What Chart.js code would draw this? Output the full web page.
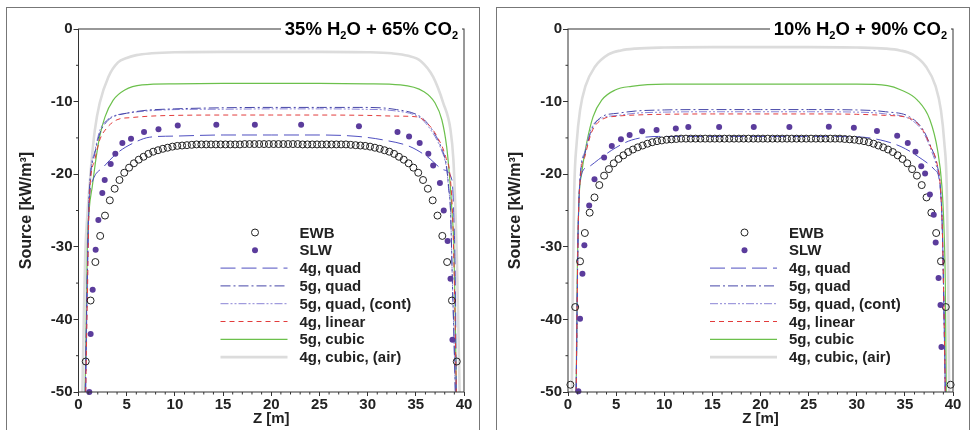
<!DOCTYPE html>
<html>
<head>
<meta charset="utf-8">
<script src="https://cdn.jsdelivr.net/npm/chart.js@4.4.1/dist/chart.umd.min.js"></script>
<style>
  body { margin: 0; background: #fff; width: 972px; height: 430px; overflow: hidden; position: relative; font-family: "Liberation Sans", Arial, sans-serif; }
  .panel { position: absolute; top: 7px; width: 474px; height: 440px; border: 1.5px solid #777; box-sizing: border-box; }
  .wrap { position: absolute; top: 0; width: 486px; height: 430px; }
  .title { position: absolute; top: 18px; font: bold 18.5px "Liberation Sans", Arial, sans-serif; line-height: 22px; background: #fff; padding: 0 4px; white-space: nowrap; }
  .title sub { font-size: 11px; line-height: 0; vertical-align: -4px; }
</style>
</head>
<body>
<div class="panel" style="left:6px"></div>
<div class="panel" style="left:496px"></div>
<div class="wrap" style="left:0"><canvas id="c1" width="486" height="430"></canvas></div>
<div class="wrap" style="left:486px"><canvas id="c2" width="486" height="430"></canvas></div>
<div class="title" style="right:510px">35% H<sub>2</sub>O + 65% CO<sub>2</sub></div>
<div class="title" style="right:21px">10% H<sub>2</sub>O + 90% CO<sub>2</sub></div>
<script>
// cell centres of the EWB reference solution [m]
const zGrid = [0.25,0.75,1.25,1.75,2.25,2.75,3.25,3.75,4.25,4.75,5.25,5.75,6.25,6.75,7.25,7.75,8.25,8.75,9.25,9.75,
  10.25,10.75,11.25,11.75,12.25,12.75,13.25,13.75,14.25,14.75,15.25,15.75,16.25,16.75,17.25,17.75,18.25,18.75,19.25,19.75,
  20.25,20.75,21.25,21.75,22.25,22.75,23.25,23.75,24.25,24.75,25.25,25.75,26.25,26.75,27.25,27.75,28.25,28.75,29.25,29.75,
  30.25,30.75,31.25,31.75,32.25,32.75,33.25,33.75,34.25,34.75,35.25,35.75,36.25,36.75,37.25,37.75,38.25,38.75,39.25,39.75];

const xTicks = [0, 5, 10, 15, 20, 25, 30, 35, 40];
const yTicks = [-50, -40, -30, -20, -10, 0];
const labels = ['EWB', 'SLW', '4g, quad', '5g, quad', '5g, quad, (cont)', '4g, linear', '5g, cubic', '4g, cubic, (air)'];

// ---- 35% H2O + 65% CO2 ----
const ewbA = [null,-45.8,-37.4,-32.1,-28.5,-25.7,-23.6,-22.0,-20.8,-19.8,
  -19.1,-18.5,-18.0,-17.6,-17.2,-16.9,-16.7,-16.5,-16.35,-16.2,
  -16.1,-16.05,-16.0,-15.95,-15.9,-15.9,-15.9,-15.9,-15.9,-15.9,
  -15.9,-15.9,-15.9,-15.9,-15.85,-15.85,-15.85,-15.85,-15.85,-15.85,
  -15.85,-15.85,-15.85,-15.85,-15.85,-15.85,-15.9,-15.9,-15.9,-15.9,
  -15.9,-15.9,-15.9,-15.9,-15.9,-15.9,-15.95,-16.0,-16.05,-16.1,
  -16.2,-16.35,-16.5,-16.7,-16.9,-17.2,-17.6,-18.0,-18.5,-19.1,
  -19.8,-20.8,-22.0,-23.6,-25.7,-28.5,-32.1,-37.4,-45.8,null];
const slwAx = [1.12,1.26,1.47,1.78,2.06,2.47,2.72,3.34,3.82,4.55,5.45,6.8,8.3,10.3,14.3,18.3,23.1,29.1,33.1,34.3,35.4,36.3,36.8,37.5,37.9,38.3,38.6,38.8];
const slwAy = [-50,-42,-35.9,-30.4,-26.3,-22.6,-20.8,-18.6,-17.2,-15.7,-15.1,-14.2,-13.8,-13.3,-13.2,-13.2,-13.2,-13.4,-14.2,-14.8,-15.7,-17.2,-18.8,-21.2,-25.0,-29.2,-34.4,-42.8];
const q4Ax = [0.75,0.85,0.95,1.1,1.5,2.6,4.0,5.7,7.4,10,15,20,25,29,31.7,34.4,36.2,37.9,38.75,38.95,39.1,39.2];
const q4Ay = [-50,-40,-32,-24,-20.8,-19.0,-17.1,-15.7,-14.9,-14.75,-14.6,-14.6,-14.6,-14.8,-15.3,-16.2,-17.6,-19.4,-20.8,-26,-35,-50];
const q5Ax = [0.7,0.8,0.9,1.05,1.2,1.7,2.2,2.9,3.6,5,7,10,15,20,25,29.2,33,35.5,36.5,37.6,38.2,38.4,38.6,38.8,38.95,39.1];
const q5Ay = [-50,-42,-35,-25,-20.8,-17.1,-14.4,-12.8,-12.1,-11.6,-11.2,-11.0,-10.85,-10.8,-10.8,-10.8,-11.1,-12.1,-13.5,-16.2,-19,-21.7,-25,-35,-42,-50];
const qcAy = [-50,-42,-35,-25,-20.5,-16.8,-14.0,-12.6,-12.0,-11.6,-11.3,-11.1,-11.05,-11.0,-11.0,-11.05,-11.3,-12.3,-13.8,-16.5,-19.3,-22,-25,-35,-42,-50];
const linAx = [0.75,0.85,0.95,1.05,1.2,1.7,2.2,2.9,4.0,5.5,7.5,10,15,20,25,30,33,35.1,36.2,37.2,38.1,38.6,38.85,39.0,39.1,39.2];
const linAy = [-50,-42,-35,-27,-21.7,-18,-15.3,-13.7,-12.5,-12.2,-12.0,-11.9,-11.85,-11.85,-11.85,-11.9,-12.0,-12.1,-13,-14.8,-17.6,-20.8,-27,-35,-42,-50];
const cubAx = [0.68,0.8,0.92,1.1,1.43,1.8,2.2,2.75,3.6,4.8,6.6,10,15,20,25,30,33.4,35.8,37.0,37.7,38.2,38.5,38.75,38.95,39.1,39.2];
const cubAy = [-50,-40,-30,-25,-21.7,-18,-14.8,-12.1,-9.8,-8.4,-7.7,-7.55,-7.5,-7.5,-7.5,-7.55,-7.7,-8.6,-10.2,-12.5,-16.2,-20.3,-25,-30,-40,-50];
const airAx = [0.4,0.55,0.7,0.9,1.09,1.37,1.7,2.2,3.1,4.1,5.0,6.0,7.6,10,15,20,25,30,32.5,34.2,35.5,36.8,37.85,38.6,38.9,39.1,39.25,39.4,39.55];
const airAy = [-50,-40,-31,-26,-22.6,-18,-13.9,-10.2,-6.6,-4.6,-4.0,-3.6,-3.35,-3.2,-3.15,-3.15,-3.15,-3.2,-3.35,-3.7,-4.4,-6.6,-10.2,-13.9,-18,-24.5,-31,-40,-50];

// ---- 10% H2O + 90% CO2 ----
const ewbB = [-49.0,-38.3,-32.0,-28.1,-25.3,-23.2,-21.5,-20.2,-19.3,-18.5,
  -17.9,-17.4,-16.95,-16.6,-16.3,-16.05,-15.8,-15.6,-15.45,-15.35,
  -15.25,-15.2,-15.15,-15.1,-15.1,-15.1,-15.1,-15.1,-15.1,-15.1,
  -15.1,-15.1,-15.1,-15.1,-15.1,-15.1,-15.1,-15.1,-15.1,-15.1,
  -15.1,-15.1,-15.1,-15.1,-15.1,-15.1,-15.1,-15.1,-15.1,-15.1,
  -15.1,-15.1,-15.1,-15.1,-15.1,-15.1,-15.1,-15.15,-15.2,-15.25,
  -15.35,-15.45,-15.6,-15.8,-16.05,-16.3,-16.6,-16.95,-17.4,-17.9,
  -18.5,-19.3,-20.2,-21.5,-23.2,-25.3,-28.1,-32.0,-38.3,-49.0];
const slwBx = [1.08,1.25,1.5,1.7,2.2,2.75,3.75,4.55,5.5,6.4,7.7,9.2,11.2,12.5,15.7,19.3,23.0,27.1,29.7,32.1,34.2,35.3,36.1,36.7,37.1,37.6,38.0,38.2,38.5,38.7,38.8];
const slwBy = [-49.9,-39.9,-33.7,-29.8,-24.3,-20.7,-17.7,-16.1,-15.2,-14.6,-14.1,-13.9,-13.7,-13.5,-13.5,-13.5,-13.5,-13.45,-13.6,-14.05,-14.7,-15.7,-16.9,-18.9,-19.9,-22.8,-25.6,-29.4,-34.3,-38.0,-43.8];
const q4Bx = [0.85,0.95,1.05,1.3,2.1,3.15,4.9,6.6,9.4,15,20,25,30,32.5,34.6,36.4,38.1,38.6,38.9,39.05,39.2];
const q4By = [-50,-38,-28,-20.5,-19.0,-18.0,-16.4,-15.3,-14.8,-14.8,-14.8,-14.8,-14.85,-15.3,-16.2,-17.6,-19.4,-21,-28,-38,-50];
const q5Bx = [0.85,0.95,1.05,1.25,1.77,2.46,3.5,5.2,7,10,15,20,25,30,33,35.5,36.9,37.7,38.3,38.7,38.9,39.05,39.2];
const q5By = [-50,-38,-28,-20.8,-17.1,-13.9,-12.1,-11.6,-11.3,-11.15,-11.1,-11.1,-11.1,-11.15,-11.4,-12.1,-13.9,-16.2,-18.5,-22,-28,-38,-50];
const qcBy = [-50,-38,-28,-20.5,-16.8,-13.6,-12.3,-11.9,-11.6,-11.45,-11.4,-11.4,-11.4,-11.45,-11.7,-12.4,-14.2,-16.6,-19,-22.3,-28,-38,-50];
const linBy = [-50,-38,-28,-21,-17.5,-14.2,-12.5,-12.0,-11.85,-11.75,-11.7,-11.7,-11.7,-11.75,-11.9,-12.3,-14.0,-16.3,-18.3,-22,-28,-38,-50];
const cubBx = [0.85,0.95,1.14,1.42,1.94,2.6,3.5,4.9,6.6,10.1,15,20,25,30,33.2,34.6,36.3,37.6,38.4,38.85,39.05,39.2,39.3];
const cubBy = [-50,-35,-23.6,-19.9,-15.7,-12.1,-9.8,-8.4,-7.9,-7.6,-7.6,-7.6,-7.6,-7.6,-7.8,-8.4,-9.8,-12.5,-16.7,-21.7,-27,-35,-50];
const airBx = [0.4,0.5,0.66,0.9,1.25,1.8,2.8,4.2,5.5,7,10,15,20,25,30,33,34.5,35.8,37.2,38.2,38.75,39.1,39.35,39.5,39.6];
const airBy = [-50,-35,-21.7,-15.7,-11.2,-7.9,-5.2,-3.5,-2.95,-2.7,-2.55,-2.5,-2.5,-2.5,-2.55,-2.7,-2.95,-3.5,-5.2,-7.9,-11.2,-15.7,-21.7,-35,-50];

const FONT = '"Liberation Sans", Arial, sans-serif';

function pts(xs, ys) {
    return xs.map((x, i) => ({ x: x, y: ys[i] }));
}

function lineSet(label, data, color, dash, width, order) {
    return {
        label: label, data: data, showLine: true, pointRadius: 0,
        borderColor: color, borderDash: dash, borderWidth: width,
        cubicInterpolationMode: 'monotone', order: order
    };
}

function makeSets(ewb, slw, q4, q5, qc, lin, cub, air) {
    return [
        { label: labels[0], data: ewb, pointStyle: 'circle', pointRadius: 3.5, borderWidth: 1,
          borderColor: '#222', backgroundColor: 'rgba(255,255,255,0)', order: 1, clip: 8 },
        { label: labels[1], data: slw, pointStyle: 'circle', pointRadius: 3, borderWidth: 0,
          backgroundColor: '#5b3c9c', borderColor: '#5b3c9c', order: 0, clip: 8 },
        lineSet(labels[2], q4, '#4f4fc0', [15, 6], 1, 3),
        lineSet(labels[3], q5, '#4646a8', [10, 3, 2, 3], 1, 4),
        lineSet(labels[4], qc, '#8a84d6', [8, 2, 2, 2, 2, 2], 1, 5),
        lineSet(labels[5], lin, '#e23c3c', [5, 4], 1, 2),
        lineSet(labels[6], cub, '#6cc04c', [], 1.2, 6),
        lineSet(labels[7], air, '#dcdcdc', [], 2.6, 7)
    ];
}

// box round the plot, minor ticks, in-plot legend
const decor = {
    id: 'decor',
    afterDraw(chart) {
        const ctx = chart.ctx, a = chart.chartArea;
        const xs = chart.scales.x, ys = chart.scales.y;
        ctx.save();
        ctx.strokeStyle = '#333';
        ctx.lineWidth = 1;
        ctx.strokeRect(a.left, a.top, a.right - a.left, a.bottom - a.top);
        ctx.beginPath();
        for (let v = 1; v < 40; v++) {
            if (v % 5 === 0) continue;
            const px = xs.getPixelForValue(v);
            ctx.moveTo(px, a.bottom); ctx.lineTo(px, a.bottom + 2.5);
        }
        for (let v = -45; v < 0; v += 10) {
            const py = ys.getPixelForValue(v);
            ctx.moveTo(a.left, py); ctx.lineTo(a.left - 2.5, py);
        }
        ctx.stroke();

        // legend
        const x0 = a.left + 142, x1 = a.left + 209, xt = a.left + 221;
        ctx.font = 'bold 15px ' + FONT;
        ctx.textBaseline = 'middle';
        chart.data.datasets.forEach((ds, i) => {
            const yy = a.top + 203.5 + i * 17.8;
            if (ds.showLine) {
                ctx.beginPath();
                ctx.strokeStyle = ds.borderColor;
                ctx.lineWidth = ds.borderWidth;
                ctx.setLineDash(ds.borderDash);
                ctx.moveTo(x0, yy); ctx.lineTo(x1, yy);
                ctx.stroke();
                ctx.setLineDash([]);
            } else {
                ctx.beginPath();
                ctx.arc(a.left + 176.5, yy, ds.pointRadius, 0, Math.PI * 2);
                if (ds.borderWidth) { ctx.strokeStyle = ds.borderColor; ctx.lineWidth = 1; ctx.stroke(); }
                else { ctx.fillStyle = ds.backgroundColor; ctx.fill(); }
            }
            ctx.fillStyle = '#222';
            ctx.fillText(ds.label, xt, yy + 1);
        });
        ctx.restore();
    }
};

function makeChart(id, sets, padLeft, yWidth, padRight) {
    return new Chart(document.getElementById(id), {
        type: 'scatter',
        data: { datasets: sets },
        options: {
            responsive: false,
            animation: false,
            layout: { padding: { top: 29, right: padRight, left: padLeft, bottom: 0 } },
            plugins: { legend: { display: false }, tooltip: { enabled: false } },
            scales: {
                x: {
                    type: 'linear', min: 0, max: 40,
                    afterBuildTicks: (s) => { s.ticks = xTicks.map(v => ({ value: v })); },
                    afterFit: (s) => { s.height = 38; },
                    grid: { display: true, drawOnChartArea: false, tickLength: 4, color: '#333' },
                    border: { display: false },
                    ticks: { color: '#222', padding: 0, maxRotation: 0, font: { family: FONT, size: 15, weight: 'bold' } },
                    title: { display: true, text: 'Z [m]', color: '#222', padding: { top: 0, bottom: 2 },
                             font: { family: FONT, size: 15, weight: 'bold' } }
                },
                y: {
                    type: 'linear', min: -50, max: 0,
                    afterBuildTicks: (s) => { s.ticks = yTicks.map(v => ({ value: v })); },
                    afterFit: (s) => { s.width = yWidth; },
                    grid: { display: true, drawOnChartArea: false, tickLength: 5, color: '#333' },
                    border: { display: false },
                    ticks: { color: '#222', padding: 1, font: { family: FONT, size: 15, weight: 'bold' } },
                    title: { display: true, text: 'Source [kW/m³]', color: '#222', padding: { top: 0, bottom: 0 },
                             font: { family: FONT, size: 16, weight: 'bold' } }
                }
            }
        },
        plugins: [decor]
    });
}

makeChart('c1', makeSets(pts(zGrid, ewbA), pts(slwAx, slwAy), pts(q4Ax, q4Ay), pts(q5Ax, q5Ay),
    pts(q5Ax, qcAy), pts(linAx, linAy), pts(cubAx, cubAy), pts(airAx, airAy)), 17, 61.5, 22);
makeChart('c2', makeSets(pts(zGrid, ewbB), pts(slwBx, slwBy), pts(q4Bx, q4By), pts(q5Bx, q5By),
    pts(q5Bx, qcBy), pts(q5Bx, linBy), pts(cubBx, cubBy), pts(airBx, airBy)), 20, 62, 19);
</script>
</body>
</html>
